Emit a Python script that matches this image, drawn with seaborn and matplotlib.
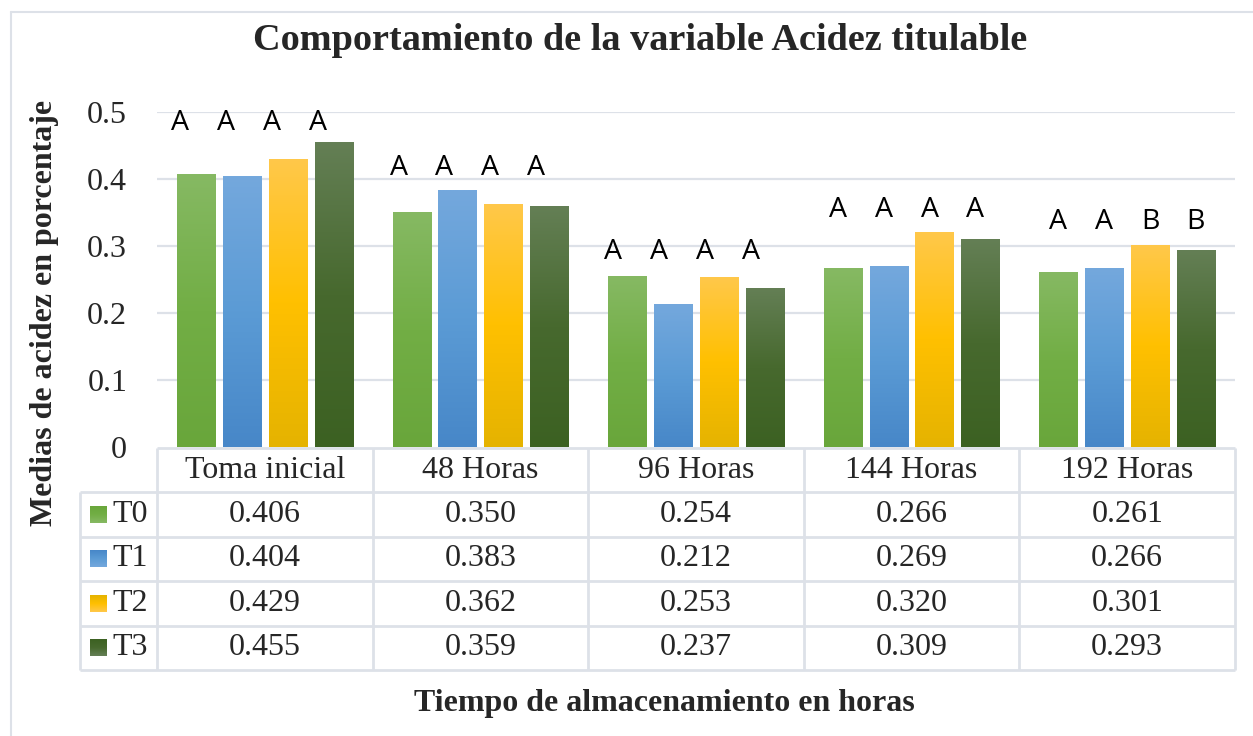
import numpy as np
import pandas as pd
import matplotlib
matplotlib.use("Agg")
import matplotlib.pyplot as plt
from matplotlib.colors import LinearSegmentedColormap
import seaborn as sns

# ---------------- data ----------------
categories = ["Toma inicial", "48 Horas", "96 Horas", "144 Horas", "192 Horas"]
treatments = ["T0", "T1", "T2", "T3"]
t0 = [0.406, 0.350, 0.254, 0.266, 0.261]
t1 = [0.404, 0.383, 0.212, 0.269, 0.266]
t2 = [0.429, 0.362, 0.253, 0.320, 0.301]
t3 = [0.455, 0.359, 0.237, 0.309, 0.293]
letters = [["A", "A", "A", "A"],
           ["A", "A", "A", "A"],
           ["A", "A", "A", "A"],
           ["A", "A", "A", "A"],
           ["A", "A", "B", "B"]]
letter_height = [0.484, 0.416, 0.291, 0.354, 0.336]
yticks = [0, 0.1, 0.2, 0.3, 0.4, 0.5]
title = "Comportamiento de la variable Acidez titulable"
xlabel = "Tiempo de almacenamiento en horas"
ylabel = "Medias de acidez en porcentaje"

# ---------------- styles ----------------
grad = {
    "T0": ["#86B963", "#72AE45", "#69A63B"],
    "T1": ["#74A8DD", "#5B9BD5", "#4787C8"],
    "T2": ["#FFC84A", "#FFC000", "#E5B300"],
    "T3": ["#647F55", "#47692E", "#3C6122"],
}
mid = {k: v[1] for k, v in grad.items()}
letter_dx_px = [-16, -13, -14, -5, 0]
grid_col = "#DDE1E8"
serif = "Liberation Serif"
fs = 23

sns.set_theme(style="white")
plt.rcParams["font.family"] = [serif, "DejaVu Serif"]

values = {"T0": t0, "T1": t1, "T2": t2, "T3": t3}
rows = []
for tr in treatments:
    for c, v in zip(categories, values[tr]):
        rows.append({"Tiempo": c, "Tratamiento": tr, "Acidez": v})
df = pd.DataFrame(rows)

W, H = 1253, 736
fig = plt.figure(figsize=(W / 100, H / 100), dpi=100)

def fx(px):
    return px / W

def fy(py):
    return 1 - py / H

ax_l, ax_r, ax_t, ax_b = 157, 1235, 112, 447
ax = fig.add_axes([fx(ax_l), fy(ax_b), fx(ax_r - ax_l), (ax_b - ax_t) / H])

sns.barplot(data=df, x="Tiempo", y="Acidez", hue="Tratamiento",
            order=categories, hue_order=treatments,
            palette=mid, width=0.85, gap=0.17, errorbar=None,
            legend=False, ax=ax)

ax.set_xlim(-0.5, len(categories) - 0.5)
ax.set_ylim(0, 0.5)
ax.set_yticks(yticks)
ax.set_yticklabels([f"{v:g}" for v in yticks], fontsize=fs, family=serif)
ax.tick_params(axis="y", length=0, pad=21.5)
ax.set_xticks([])
ax.set_xlabel("")
ax.set_ylabel("")
for s in ax.spines.values():
    s.set_visible(False)
for v in yticks[1:]:
    ax.axhline(v, color=grid_col, lw=1.6, zorder=0)

# gradient bars
for tr, cont in zip(treatments, ax.containers):
    cmap = LinearSegmentedColormap.from_list(tr, grad[tr][::-1])
    g = np.linspace(0, 1, 256).reshape(-1, 1)
    for bar in cont:
        x0, w, h = bar.get_x(), bar.get_width(), bar.get_height()
        bar.set_facecolor("none")
        bar.set_edgecolor("none")
        ax.imshow(g, cmap=cmap, origin="lower", aspect="auto",
                  extent=[x0, x0 + w, 0, h], zorder=2)
ax.set_xlim(-0.5, len(categories) - 0.5)
ax.set_ylim(0, 0.5)

# letters
px_per_unit = (ax_r - ax_l) / len(categories)
for ci in range(len(categories)):
    for hi, tr in enumerate(treatments):
        bar = ax.containers[hi][ci]
        xc = bar.get_x() + bar.get_width() / 2 + letter_dx_px[ci] / px_per_unit
        ax.text(xc, letter_height[ci], letters[ci][hi], ha="center", va="center",
                fontsize=20.5, family="Open Sans", color="black", clip_on=False)

# ---------------- data table ----------------
tb_top, tb_bot = 448, 670
tab = fig.add_axes([fx(ax_l), fy(tb_bot), fx(ax_r - ax_l), (tb_bot - tb_top) / H])
tab.set_xlim(-0.5, len(categories) - 0.5)
tab.set_ylim(5, 0)
tab.axis("off")
leg_left = -0.5 - (ax_l - 80) / px_per_unit
lc = dict(color=grid_col, lw=2, clip_on=False, solid_capstyle="butt")
tab.plot([-0.5, len(categories) - 0.5], [0, 0], **lc)
for r in range(1, 6):
    tab.plot([leg_left, len(categories) - 0.5], [r, r], **lc)
for k in range(len(categories) + 1):
    tab.plot([k - 0.5, k - 0.5], [0, 5], **lc)
tab.plot([leg_left, leg_left], [1, 5], **lc)

for ci, c in enumerate(categories):
    tab.text(ci, 0.5, c, ha="center", va="center", fontsize=fs, family=serif)
    for hi, tr in enumerate(treatments):
        tab.text(ci, hi + 1.5, f"{values[tr][ci]:.3f}", ha="center", va="center",
                 fontsize=fs, family=serif)

sq = 17 / px_per_unit
for hi, tr in enumerate(treatments):
    x0 = -0.5 - (ax_l - 90) / px_per_unit
    cmap = LinearSegmentedColormap.from_list(tr + "l", grad[tr][::-1])
    g = np.linspace(0, 1, 64).reshape(-1, 1)
    yc = hi + 1.5
    tab.imshow(g, cmap=cmap, origin="upper", aspect="auto",
               extent=[x0, x0 + sq, yc + 0.19, yc - 0.19], clip_on=False, zorder=3)
    tab.text(x0 + sq + 5 / px_per_unit, yc, tr, ha="left", va="center",
             fontsize=fs, family=serif, clip_on=False)
tab.set_xlim(-0.5, len(categories) - 0.5)
tab.set_ylim(5, 0)

# ---------------- titles & frame ----------------
fig.text(fx(640), fy(41), title, ha="center", va="center", fontsize=27.5,
         fontweight="bold", family=serif)
fig.text(fx(664), fy(704), xlabel, ha="center", va="center", fontsize=23,
         fontweight="bold", family=serif)
fig.text(fx(45), fy(313), ylabel, ha="center", va="center", fontsize=23,
         fontweight="bold", family=serif, rotation=90)

fig.add_artist(plt.Line2D([fx(11), fx(11)], [fy(12), 0], color=grid_col, lw=1.5))
fig.add_artist(plt.Line2D([fx(11), 1], [fy(12), fy(12)], color=grid_col, lw=1.5))

fig.savefig("out.png", dpi=100, facecolor="white")
